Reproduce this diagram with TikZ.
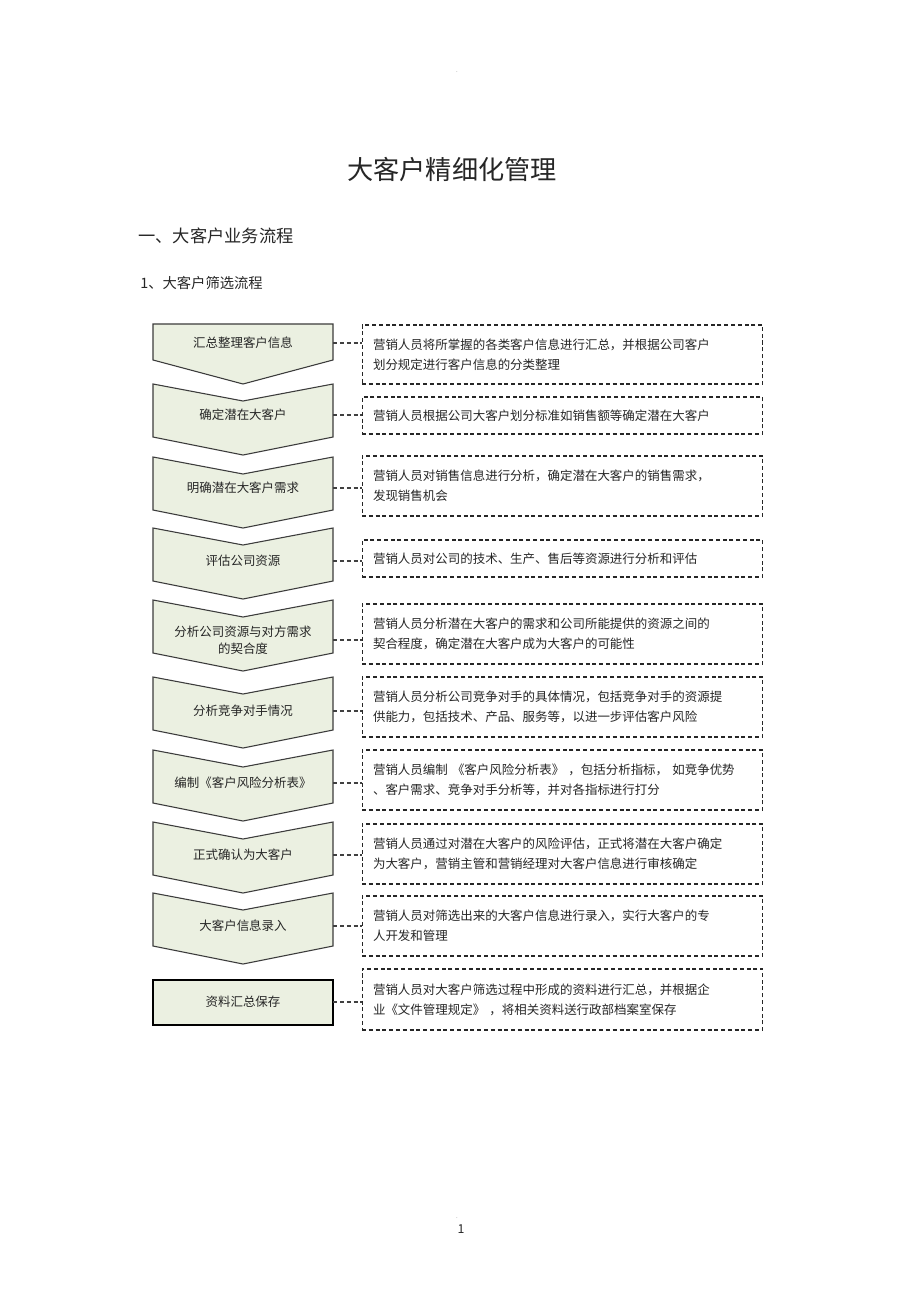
\documentclass[tikz,border=0pt]{standalone}
\usepackage{fontspec}
\setmainfont{Noto Sans CJK SC}
\usetikzlibrary{positioning}
\definecolor{chevfill}{HTML}{EBF0E1}
\definecolor{chevline}{HTML}{3C3C3C}
\definecolor{inktext}{HTML}{262626}

\begin{document}
\begin{tikzpicture}[x=0.022826cm,y=-0.022826cm,every node/.style={text=inktext},
  chev/.style={draw=chevline,fill=chevfill,line width=0.7pt},
  stage/.style={minimum width=4.109cm,inner sep=0pt,align=center,font=\fontsize{8.1}{11}\selectfont},
  desc/.style={draw=black!85,dash pattern=on 2.6pt off 1.8pt,line width=0.7pt,text width=8.65cm,inner xsep=0.25cm,inner ysep=0pt,align=left,font=\fontsize{8.1}{13}\selectfont},
  link/.style={draw=black!75,dash pattern=on 2.6pt off 1.8pt,line width=0.7pt}]
\useasboundingbox[fill=white] (0,0) rectangle (920,1303);

\node[font=\fontsize{4}{4}\selectfont,text=gray] (dottop) at (457,72) {.};
\node[font=\fontsize{17}{20}\selectfont] (title) at (452,170) {大客户精细化管理};
\node[anchor=west,inner sep=0pt,font=\fontsize{11.2}{13}\selectfont] (sec) at (138,236) {一、大客户业务流程};
\node[anchor=west,inner sep=0pt,font=\fontsize{9.3}{11}\selectfont] (subsec) at (140,283) {1、大客户筛选流程};

\draw[chev] (153,324) -- (333,324) -- (333,360) -- (243,384) -- (153,360) -- cycle;
\foreach \t in {384,457,528,600,677,750,822,893}
{
   \draw[chev] (153,\t) -- (243,\t+17) -- (333,\t) -- (333,\t+53) -- (243,\t+71) -- (153,\t+53) -- cycle;
}
\draw[chev,draw=black,line width=1.1pt] (153,980) rectangle (333,1025);

\node[stage] (s1) at (243,343) {汇总整理客户信息};
\node[stage] (s2) at (243,415) {确定潜在大客户};
\node[stage] (s3) at (243,488) {明确潜在大客户需求};
\node[stage] (s4) at (243,561) {评估公司资源};
\node[stage] (s5) at (243,640) {分析公司资源与对方需求\\的契合度};
\node[stage] (s6) at (243,711) {分析竞争对手情况};
\node[stage] (s7) at (243,783) {编制《客户风险分析表》};
\node[stage] (s8) at (243,855) {正式确认为大客户};
\node[stage] (s9) at (243,926) {大客户信息录入};
\node[stage] (s10) at (243,1002) {资料汇总保存};

\node[desc,minimum height=1.347cm] (d1) at (562.5,354.5) {营销人员将所掌握的各类客户信息进行汇总，并根据公司客户\\划分规定进行客户信息的分类整理};
\node[desc,minimum height=0.845cm] (d2) at (562.5,415.5) {营销人员根据公司大客户划分标准如销售额等确定潜在大客户};
\node[desc,minimum height=1.370cm] (d3) at (562.5,486) {营销人员对销售信息进行分析，确定潜在大客户的销售需求，\\发现销售机会};
\node[desc,minimum height=0.845cm] (d4) at (562.5,558.5) {营销人员对公司的技术、生产、售后等资源进行分析和评估};
\node[desc,minimum height=1.370cm] (d5) at (562.5,634) {营销人员分析潜在大客户的需求和公司所能提供的资源之间的\\契合程度，确定潜在大客户成为大客户的可能性};
\node[desc,minimum height=1.370cm] (d6) at (562.5,707) {营销人员分析公司竞争对手的具体情况，包括竞争对手的资源提\\供能力，包括技术、产品、服务等，以进一步评估客户风险};
\node[desc,minimum height=1.370cm] (d7) at (562.5,780) {营销人员编制 《客户风险分析表》 ，包括分析指标， 如竞争优势\\、客户需求、竞争对手分析等，并对各指标进行打分};
\node[desc,minimum height=1.370cm] (d8) at (562.5,854) {营销人员通过对潜在大客户的风险评估，正式将潜在大客户确定\\为大客户，营销主管和营销经理对大客户信息进行审核确定};
\node[desc,minimum height=1.370cm] (d9) at (562.5,926) {营销人员对筛选出来的大客户信息进行录入，实行大客户的专\\人开发和管理};
\node[desc,minimum height=1.392cm] (d10) at (562.5,999.5) {营销人员对大客户筛选过程中形成的资料进行汇总，并根据企\\业《文件管理规定》 ，将相关资料送行政部档案室保存};

\foreach \i in {1,...,10}
{
   \draw[link] (s\i.east) -- (s\i.east -| d\i.west);
}

\node[font=\fontsize{4}{4}\selectfont,text=gray] (dotbot) at (457,1218) {.};
\node[font=\fontsize{8}{9}\selectfont] (pagenum) at (461,1229) {1};

\end{tikzpicture}
\end{document}
